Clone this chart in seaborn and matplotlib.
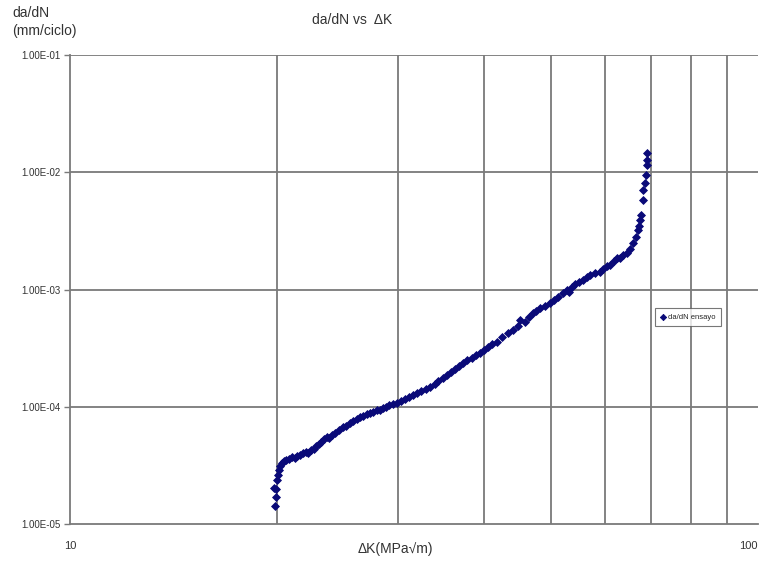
import matplotlib
matplotlib.use("Agg")
import matplotlib.pyplot as plt
import seaborn as sns
import pandas as pd
from matplotlib.ticker import FixedLocator, NullFormatter

# Crack growth rate vs stress intensity factor range
delta_k = [
    19.85, 19.90, 19.80, 19.95, 20.00, 20.05, 20.10, 20.20, 20.30, 20.45,
    20.60, 20.80, 21.00, 21.20, 21.40, 21.60, 21.80, 22.00, 22.20, 22.40,
    22.60, 22.80, 23.00, 23.20, 23.40, 23.60, 23.80, 24.00, 24.30, 24.60,
    24.90, 25.20, 25.50, 25.80, 26.10, 26.40, 26.70, 27.00, 27.30, 27.60,
    27.90, 28.20, 28.50, 28.80, 29.10, 29.50, 29.90, 30.30, 30.70, 31.10,
    31.50, 31.90, 32.40, 32.90, 33.40, 33.90, 34.30, 34.80, 35.30, 35.80,
    36.30, 36.80, 37.30, 37.80, 38.40, 38.90, 39.40, 40.00, 40.50, 41.10,
    41.80, 42.50, 43.30, 44.00, 44.80, 45.10, 45.85, 46.50, 47.10, 47.60,
    48.20, 49.00, 49.85, 50.50, 51.20, 52.00, 52.80, 53.10, 53.60, 54.20,
    55.00, 55.70, 56.40, 57.00, 58.00, 58.90, 59.60, 60.30, 61.00, 61.70,
    62.40, 63.00, 63.70, 64.50, 65.20, 65.80, 66.40, 66.90, 67.20, 67.40,
    67.50, 68.00, 68.10, 68.50, 68.70, 68.90, 69.00, 69.00,
]
dadn = [
    1.43e-5, 1.71e-5, 2.04e-5, 2.00e-5, 2.38e-5, 2.60e-5, 2.90e-5, 3.10e-5, 3.30e-5, 3.45e-5,
    3.50e-5, 3.60e-5, 3.70e-5, 3.65e-5, 3.80e-5, 3.90e-5, 4.00e-5, 4.10e-5, 4.05e-5, 4.30e-5,
    4.40e-5, 4.60e-5, 4.80e-5, 5.00e-5, 5.30e-5, 5.50e-5, 5.40e-5, 5.70e-5, 6.00e-5, 6.30e-5,
    6.70e-5, 6.90e-5, 7.30e-5, 7.60e-5, 7.90e-5, 8.10e-5, 8.40e-5, 8.70e-5, 8.90e-5, 9.10e-5,
    9.30e-5, 9.40e-5, 9.70e-5, 1.00e-4, 1.03e-4, 1.06e-4, 1.08e-4, 1.12e-4, 1.17e-4, 1.21e-4,
    1.26e-4, 1.31e-4, 1.37e-4, 1.42e-4, 1.48e-4, 1.57e-4, 1.66e-4, 1.76e-4, 1.87e-4, 1.98e-4,
    2.10e-4, 2.22e-4, 2.37e-4, 2.50e-4, 2.61e-4, 2.75e-4, 2.88e-4, 3.05e-4, 3.24e-4, 3.40e-4,
    3.58e-4, 3.90e-4, 4.27e-4, 4.55e-4, 4.85e-4, 5.50e-4, 5.30e-4, 5.80e-4, 6.30e-4, 6.60e-4,
    7.00e-4, 7.30e-4, 7.70e-4, 8.20e-4, 8.70e-4, 9.30e-4, 1.00e-3, 9.60e-4, 1.05e-3, 1.12e-3,
    1.17e-3, 1.21e-3, 1.27e-3, 1.33e-3, 1.38e-3, 1.41e-3, 1.50e-3, 1.58e-3, 1.62e-3, 1.75e-3,
    1.86e-3, 1.86e-3, 1.95e-3, 2.05e-3, 2.20e-3, 2.50e-3, 2.80e-3, 3.20e-3, 3.50e-3, 3.90e-3,
    4.30e-3, 5.80e-3, 7.10e-3, 8.10e-3, 9.50e-3, 1.15e-2, 1.27e-2, 1.46e-2,
]
series_name = "da/dN ensayo"
y_ticks = [1e-5, 1e-4, 1e-3, 1e-2, 1e-1]
y_tick_labels = ["1.00E-05", "1.00E-04", "1.00E-03", "1.00E-02", "1.00E-01"]
x_ticks = [10, 100]
x_tick_labels = ["10", "100"]
x_grid = [20, 30, 40, 50, 60, 70, 80, 90]

df = pd.DataFrame({"dK": delta_k, "dadN": dadn})

sns.set_style("white")
plt.rcParams["font.family"] = ["Liberation Sans", "DejaVu Sans"]

fig = plt.figure(figsize=(7.59, 5.61), dpi=100)
ax = fig.add_axes([70 / 759, 1 - 524 / 561, 688 / 759, 469 / 561])

grid_col = "#7a7a7a"
ax.set_xscale("log")
ax.set_yscale("log")
ax.set_xlim(10, 100)
ax.set_ylim(1e-5, 1e-1)

for gx in x_grid:
    ax.axvline(gx, color=grid_col, lw=1.3, zorder=1)
for gy in y_ticks[1:]:
    ax.axhline(gy, color=grid_col, lw=1.3, zorder=1)

sns.scatterplot(data=df, x="dK", y="dadN", ax=ax, marker="D", s=16,
                color="#0a0a78", edgecolor="#0a0a78", linewidth=0.6,
                label=series_name, zorder=3)

ax.yaxis.set_major_locator(FixedLocator(y_ticks))
ax.set_yticklabels(y_tick_labels)
ax.yaxis.set_minor_locator(FixedLocator([]))
ax.xaxis.set_major_locator(FixedLocator(x_ticks))
ax.set_xticklabels(x_tick_labels)
ax.xaxis.set_minor_locator(FixedLocator([]))
ax.xaxis.set_minor_formatter(NullFormatter())
ax.tick_params(axis="y", which="major", direction="out", length=4, width=1,
               color=grid_col, labelsize=7, labelcolor="#333333", pad=3, left=True)
ax.tick_params(axis="x", which="major", direction="out", length=0,
               labelsize=8, labelcolor="#333333", pad=12, bottom=True)
# keep the right-hand "100" inside the canvas
ax.get_xticklabels()[-1].set_horizontalalignment("right")

for side in ["top", "right"]:
    ax.spines[side].set_visible(False)
for side in ["left", "bottom"]:
    ax.spines[side].set_color(grid_col)
    ax.spines[side].set_linewidth(1.3)
ax.set_xlabel("")
ax.set_ylabel("")

fig.text(12 / 759, 1 - 6 / 561, "da/dN\n(mm/ciclo)", ha="left", va="top",
         fontsize=10, color="#333333", linespacing=1.35)
fig.text(352 / 759, 1 - 20 / 561, "da/dN vs  ΔK", ha="center", va="center",
         fontsize=10, color="#333333")
fig.text(395 / 759, 1 - 549 / 561, "ΔK(MPa√m)", ha="center", va="center",
         fontsize=10, color="#333333")

leg = ax.legend(loc="upper left", bbox_to_anchor=((655 - 70) / 688, (524 - 308) / 469),
                bbox_transform=ax.transAxes, frameon=True, fancybox=False,
                fontsize=5.5, handlelength=0.6, handletextpad=0.4, borderpad=0.7,
                markerscale=0.8, borderaxespad=0)
leg.get_frame().set_edgecolor("#555555")
leg.get_frame().set_linewidth(0.8)
leg.get_frame().set_facecolor("white")

fig.savefig("out.png", dpi=100)
